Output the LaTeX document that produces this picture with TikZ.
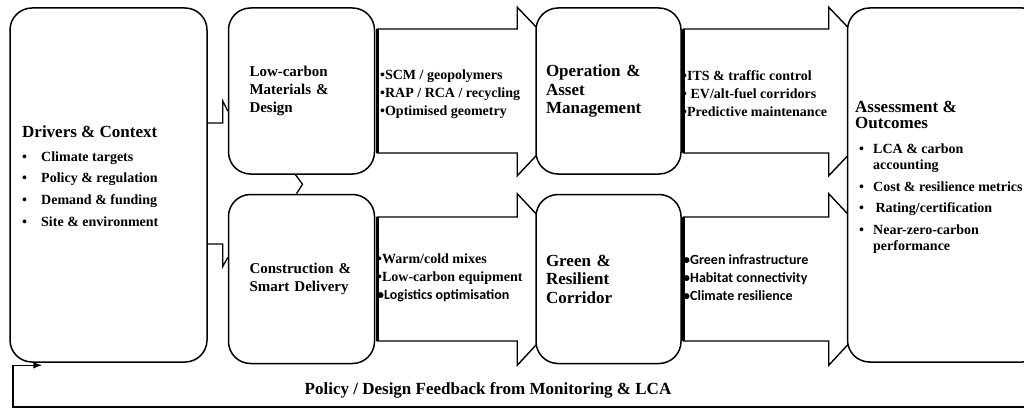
\documentclass[tikz,border=0pt]{standalone}
\usepackage{fontspec}
\setmainfont{Liberation Serif}
\newfontfamily\carlito{Carlito}
\usetikzlibrary{arrows.meta, calc, positioning, backgrounds}
\newcommand{\itm}[1]{\makebox[#1][l]{\textbullet}}
\newcommand{\blockarrow}[2]{%
  \draw[bigarrow] ($(#1.east)+(2,-62)$) -- ($(#1.east -| #2.west)+(-18,-62)$)
    -- ($(#1.north -| #2.west)+(-18,0)$) -- ($(#1.east -| #2.west)+(62,0)$)
    -- ($(#1.south -| #2.west)+(-18,1)$) -- ($(#1.east -| #2.west)+(-18,62)$)
    -- ($(#1.east)+(2,62)$) -- cycle;
  \draw[tailedge] ($(#1.east)+(2,-62)$) -- ($(#1.east)+(2,62)$);}

\begin{document}
\begin{tikzpicture}[
        x=1pt, y=-1pt, >={Latex[length=9pt,width=7pt]},
        box/.style={draw, line width=1.5pt, fill=white, rounded corners=22pt, inner sep=0pt, align=left},
        bigarrow/.style={draw, line width=1.4pt, fill=white, line join=miter},
        tailedge/.style={line width=3.2pt},
        link/.style={line width=1.3pt},
        feedback/.style={line width=1.5pt, ->},
        listtext/.style={inner sep=0pt, align=left, anchor=west, font=\fontsize{14}{18}\selectfont\bfseries},
        bigtitle/.style={font=\fontsize{17}{18.5}\selectfont\bfseries},
        smalltitle/.style={font=\fontsize{15}{18}\selectfont\bfseries}]

    \useasboundingbox (0,0) rectangle (1024,412);
    \clip (0,0) rectangle (1024,412);

    % boxes
    \node[box, minimum width=197pt, minimum height=354pt] (drv) at (108.5,185) {};
    \node[box, smalltitle, anchor=north west, minimum width=146pt, minimum height=166pt, text width=104pt]
        (lcm) at ([xshift=20pt]drv.north east) {Low-carbon\\ Materials \&\\ Design};
    \node[box, smalltitle, below=19pt of lcm, minimum width=146pt, minimum height=169pt, text width=104pt]
        (csd) {Construction \&\\ Smart Delivery};
    \node[box, bigtitle, anchor=north west, minimum width=145pt, minimum height=166pt, text width=125pt]
        (oam) at ([xshift=160pt]lcm.north east) {Operation \&\\ Asset\\ Management};
    \node[box, bigtitle, below=19pt of oam, minimum width=145pt, minimum height=169pt, text width=125pt]
        (grc) {Green \&\\ Resilient\\ Corridor};
    \node[box, anchor=north west, minimum width=197pt, minimum height=354pt]
        (aso) at ([xshift=165pt]oam.north east) {};

    % texts of the two large boxes
    \node[inner sep=0pt, align=left, anchor=north west, font=\fontsize{14}{21.7}\selectfont\bfseries]
        (drvtxt) at (22,126) {{\fontsize{17}{20}\selectfont Drivers \& Context}\\[1.5pt]
        \itm{19pt}Climate targets\\ \itm{19pt}Policy \& regulation\\
        \itm{19pt}Demand \& funding\\ \itm{19pt}Site \& environment};
    \node[inner sep=0pt, align=left, anchor=north west, font=\fontsize{14}{16}\selectfont\bfseries]
        (asotxt) at (855,101) {{\fontsize{17}{17}\selectfont Assessment \&}\\
        {\fontsize{17}{17}\selectfont Outcomes}\\[9pt]
        \hspace*{4pt}\itm{14pt}LCA \& carbon\\ \hspace*{18pt}accounting\\[6pt]
        \hspace*{4pt}\itm{14pt}Cost \& resilience metrics\\[5pt]
        \hspace*{4pt}\itm{14pt}\,Rating/certification\\[6pt]
        \hspace*{4pt}\itm{14pt}Near-zero-carbon\\ \hspace*{18pt}performance};

    % block arrows behind the boxes
    \begin{scope}[on background layer]
        \blockarrow{lcm}{oam}
        \blockarrow{csd}{grc}
        \blockarrow{oam}{aso}
        \blockarrow{grc}{aso}
    \end{scope}

    \node[listtext] (matlist) at (380,94)
        {\textbullet SCM / geopolymers\\ \textbullet RAP / RCA / recycling\\ \textbullet Optimised geometry};
    \node[listtext] (oplist) at (682,94)
        {\textbullet ITS \& traffic control\\ \textbullet\ EV/alt-fuel corridors\\ \textbullet Predictive maintenance};
    \node[listtext] (conlist) at (377,278)
        {\textbullet Warm/cold mixes\\ \textbullet Low-carbon equipment\\ {\carlito\textbullet Logistics optimisation}};
    \node[listtext, font=\fontsize{14}{18}\selectfont\bfseries\carlito] (grnlist) at (683,278)
        {\textbullet Green infrastructure\\ \textbullet Habitat connectivity\\ \textbullet Climate resilience};

    % links from the drivers
    \draw[link] ($(drv.east)+(0,-62)$) -| ($(lcm.west)+(-5,10)$) -- ($(lcm.west)+(0,20)$);
    \draw[link] ($(drv.east)+(0,59)$) -| ($(csd.west)+(-5,-12.5)$) -- ($(csd.west)+(0,-21.5)$);
    \draw[link] ($(lcm.south)+(-6,0)$) -- ($(lcm.south)!0.5!(csd.north)+(1,0)$) -- ($(csd.north)+(-5,0)$);

    % feedback loop
    \coordinate (fbc) at (13,407);
    \draw[feedback] ($(aso.south east)+(-6,0)$) |- (fbc) |- ($(drv.south west)+(33,2.5)$);
    \node[font=\fontsize{17}{20}\selectfont\bfseries] (fbtext) at (488,390)
        {Policy / Design Feedback from Monitoring \& LCA};
\end{tikzpicture}
\end{document}
